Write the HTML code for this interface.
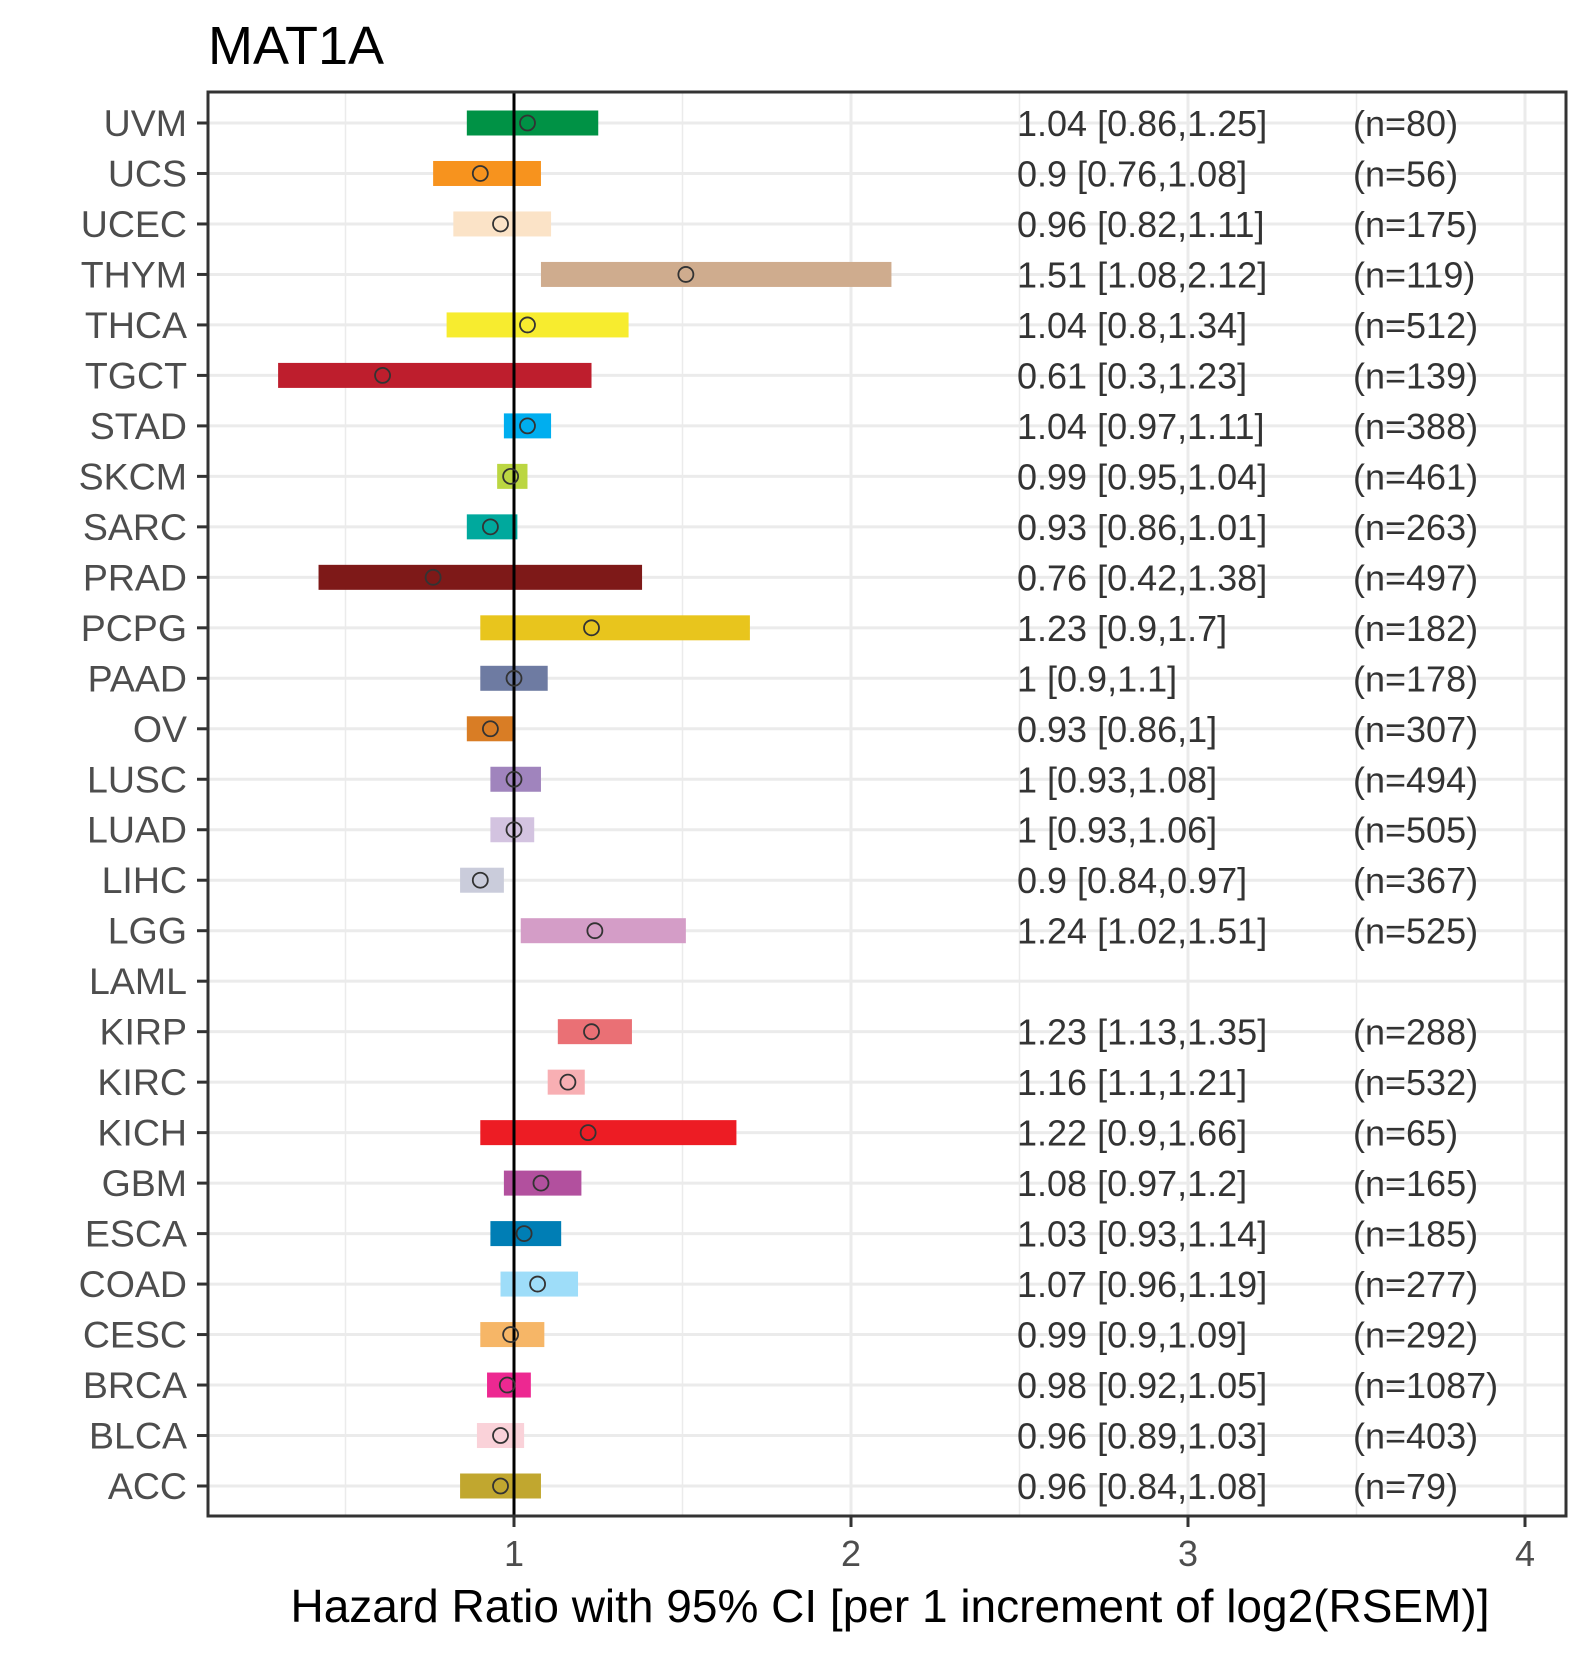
<!DOCTYPE html>
<html><head><meta charset="utf-8"><style>
body{margin:0;background:#fff}
svg text{font-family:"Liberation Sans",Arial,sans-serif}
</style></head><body>
<svg id="chart" width="1590" height="1650" xmlns="http://www.w3.org/2000/svg">
<text x="208" y="64" font-size="54" fill="#000">MAT1A</text>
<g id="grid"></g><g id="marks"></g><g id="axes"></g>
<text x="890" y="1622" font-size="46" text-anchor="middle" fill="#000">Hazard Ratio with 95% CI [per 1 increment of log2(RSEM)]</text>
</svg>
<script>
const categories=["UVM","UCS","UCEC","THYM","THCA","TGCT","STAD","SKCM","SARC","PRAD","PCPG","PAAD","OV","LUSC","LUAD","LIHC","LGG","LAML","KIRP","KIRC","KICH","GBM","ESCA","COAD","CESC","BRCA","BLCA","ACC"];
const hr=[1.04,0.9,0.96,1.51,1.04,0.61,1.04,0.99,0.93,0.76,1.23,1,0.93,1,1,0.9,1.24,null,1.23,1.16,1.22,1.08,1.03,1.07,0.99,0.98,0.96,0.96];
const lower=[0.86,0.76,0.82,1.08,0.8,0.3,0.97,0.95,0.86,0.42,0.9,0.9,0.86,0.93,0.93,0.84,1.02,null,1.13,1.1,0.9,0.97,0.93,0.96,0.9,0.92,0.89,0.84];
const upper=[1.25,1.08,1.11,2.12,1.34,1.23,1.11,1.04,1.01,1.38,1.7,1.1,1,1.08,1.06,0.97,1.51,null,1.35,1.21,1.66,1.2,1.14,1.19,1.09,1.05,1.03,1.08];
const nLabels=["(n=80)","(n=56)","(n=175)","(n=119)","(n=512)","(n=139)","(n=388)","(n=461)","(n=263)","(n=497)","(n=182)","(n=178)","(n=307)","(n=494)","(n=505)","(n=367)","(n=525)","","(n=288)","(n=532)","(n=65)","(n=165)","(n=185)","(n=277)","(n=292)","(n=1087)","(n=403)","(n=79)"];
const hrLabels=["1.04 [0.86,1.25]","0.9 [0.76,1.08]","0.96 [0.82,1.11]","1.51 [1.08,2.12]","1.04 [0.8,1.34]","0.61 [0.3,1.23]","1.04 [0.97,1.11]","0.99 [0.95,1.04]","0.93 [0.86,1.01]","0.76 [0.42,1.38]","1.23 [0.9,1.7]","1 [0.9,1.1]","0.93 [0.86,1]","1 [0.93,1.08]","1 [0.93,1.06]","0.9 [0.84,0.97]","1.24 [1.02,1.51]","","1.23 [1.13,1.35]","1.16 [1.1,1.21]","1.22 [0.9,1.66]","1.08 [0.97,1.2]","1.03 [0.93,1.14]","1.07 [0.96,1.19]","0.99 [0.9,1.09]","0.98 [0.92,1.05]","0.96 [0.89,1.03]","0.96 [0.84,1.08]"];
const colors=["#009245","#F7931E","#FBE3C7","#CFAC8E","#F7EC2F","#BE1E2D","#00AEEF","#BBD642","#00A99D","#7E1918","#E8C51D","#6E7BA2","#D97D25","#A084BD","#D3C3E0","#CACCDB","#D49DC7","#999","#EA7075","#F8AFB3","#ED1C24","#B2509E","#007EB5","#9EDDF9","#F6B667","#ED2891","#FAD2D9","#C1A72F"];
const xTicks=[1,2,3,4];
const xMinor=[0.5,1.5,2.5,3.5];
const L=208,R=1566,T=92,B=1516;
const X=v=>514+(v-1)*337;
const Y=i=>123+i*(1486-123)/(categories.length-1);
const NS="http://www.w3.org/2000/svg";
function mk(tag,attrs,parent,txt){const e=document.createElementNS(NS,tag);for(const k in attrs)e.setAttribute(k,attrs[k]);if(txt!==undefined)e.textContent=txt;parent.appendChild(e);return e;}
const grid=document.getElementById('grid'),marks=document.getElementById('marks'),axes=document.getElementById('axes');
mk('rect',{x:L,y:T,width:R-L,height:B-T,fill:'#fff'},grid);
xMinor.forEach(v=>{const l=mk('line',{x1:X(v),x2:X(v),y1:T,y2:B,stroke:'#ebebeb','stroke-width':1.5},grid);

});
xTicks.forEach(v=>{const l=mk('line',{x1:X(v),x2:X(v),y1:T,y2:B,stroke:'#ebebeb','stroke-width':3},grid);

});
categories.forEach((c,i)=>{const l=mk('line',{x1:L,x2:R,y1:Y(i),y2:Y(i),stroke:'#ebebeb','stroke-width':3},grid);

});
categories.forEach((c,i)=>{
 const y=Y(i);
 if(hr[i]!==null){
  const r=mk('rect',{x:X(lower[i]),y:y-12.5,width:X(upper[i])-X(lower[i]),height:25,fill:colors[i]},marks);
  
  
 }
 const t=mk('text',{x:1017,y:y+13,'font-size':36,fill:'#333'},marks,hrLabels[i]);
 
 
 const n=mk('text',{x:1353,y:y+13,'font-size':36,fill:'#333'},marks,nLabels[i]);
 
 
 const yl=mk('text',{x:187,y:y+13,'font-size':37.5,fill:'#4d4d4d','text-anchor':'end'},axes,c);
 
 
 mk('line',{x1:L-11,x2:L,y1:y,y2:y,stroke:'#333','stroke-width':3},axes);
});
const ref=mk('line',{x1:X(1),x2:X(1),y1:T,y2:B,stroke:'#000','stroke-width':3},marks);


categories.forEach((c,i)=>{if(hr[i]===null)return;
 const p=mk('circle',{cx:X(hr[i]),cy:Y(i),r:7.5,fill:'none',stroke:'#333','stroke-width':1.8},marks);
 
 });
const frame=mk('rect',{x:L,y:T,width:R-L,height:B-T,fill:'none',stroke:'#333','stroke-width':3},axes);


xTicks.forEach(v=>{mk('line',{x1:X(v),x2:X(v),y1:B,y2:B+11,stroke:'#333','stroke-width':3},axes);
 const t=mk('text',{x:X(v),y:B+50,'font-size':36,fill:'#4d4d4d','text-anchor':'middle'},axes,String(v));
 
 });
</script>
</body></html>
